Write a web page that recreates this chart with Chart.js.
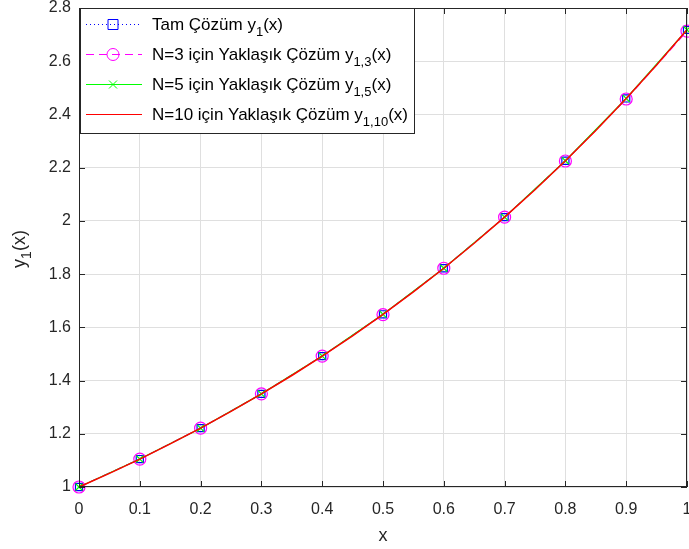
<!DOCTYPE html>
<html>
<head>
<meta charset="utf-8">
<script src="https://cdn.jsdelivr.net/npm/chart.js@4"></script>
<style>
  html, body { margin: 0; padding: 0; background: #fff; }
  #wrap { width: 689px; height: 549px; }
</style>
</head>
<body>
<div id="wrap"><canvas id="c" width="689" height="549"></canvas></div>
<script>
// values
const xValues = [0, 0.1, 0.2, 0.3, 0.4, 0.5, 0.6, 0.7, 0.8, 0.9, 1];
const exactY = [1, 1.105, 1.221, 1.350, 1.492, 1.649, 1.822, 2.014, 2.226, 2.460, 2.718];
const n3Y = [1, 1.105, 1.221, 1.350, 1.492, 1.648, 1.822, 2.014, 2.225, 2.458, 2.713];
const n5Y = [1, 1.105, 1.221, 1.350, 1.492, 1.649, 1.822, 2.014, 2.226, 2.460, 2.718];
const n10X = [0, 0.05, 0.1, 0.15, 0.2, 0.25, 0.3, 0.35, 0.4, 0.45, 0.5, 0.55, 0.6, 0.65, 0.7, 0.75, 0.8, 0.85, 0.9, 0.95, 1];
const n10Y = [1, 1.051, 1.105, 1.162, 1.221, 1.284, 1.350, 1.419, 1.492, 1.568, 1.649, 1.733, 1.822, 1.916, 2.014, 2.117, 2.226, 2.340, 2.460, 2.586, 2.718];

const legendItems = [
  { text: 'Tam Çözüm y', sub: '1', tail: '(x)', color: '#0000ff', dash: [1, 3], marker: 'square' },
  { text: 'N=3 için Yaklaşık Çözüm y', sub: '1,3', tail: '(x)', color: '#ff00ff', dash: [8, 5], marker: 'circle' },
  { text: 'N=5 için Yaklaşık Çözüm y', sub: '1,5', tail: '(x)', color: '#00ff00', dash: [], marker: 'cross' },
  { text: 'N=10 için Yaklaşık Çözüm y', sub: '1,10', tail: '(x)', color: '#ff0000', dash: [], marker: null },
];

const FONT = '"Liberation Sans", Arial, sans-serif';
const AXIS = '#262626';

function toPoints(xs, ys) {
  return xs.map((x, i) => ({ x, y: ys[i] }));
}

function drawMarker(ctx, kind, x, y, color) {
  ctx.save();
  ctx.strokeStyle = color;
  ctx.lineWidth = 1;
  ctx.setLineDash([]);
  ctx.beginPath();
  if (kind === 'square') {
    ctx.rect(x - 5, y - 5, 10, 10);
  } else if (kind === 'circle') {
    ctx.arc(x, y, 6, 0, Math.PI * 2);
  } else if (kind === 'cross') {
    ctx.moveTo(x - 4, y - 4); ctx.lineTo(x + 4, y + 4);
    ctx.moveTo(x - 4, y + 4); ctx.lineTo(x + 4, y - 4);
  }
  ctx.stroke();
  ctx.restore();
}

// text with a subscript part, left aligned at x, baseline y
function drawSubText(ctx, x, y, main, sub, tail, size, subSize) {
  ctx.font = size + 'px ' + FONT;
  ctx.fillText(main, x, y);
  let cx = x + ctx.measureText(main).width;
  ctx.font = subSize + 'px ' + FONT;
  ctx.fillText(sub, cx, y + 6);
  cx += ctx.measureText(sub).width;
  ctx.font = size + 'px ' + FONT;
  ctx.fillText(tail, cx, y);
  return cx + ctx.measureText(tail).width - x;
}

const framePlugin = {
  id: 'frame',
  afterDraw(chart) {
    const { ctx, chartArea: a, scales } = chart;
    ctx.save();

    // box and inward ticks
    ctx.strokeStyle = AXIS;
    ctx.lineWidth = 1;
    ctx.strokeRect(a.left + 0.5, a.top + 0.5, a.right - a.left - 1, a.bottom - a.top - 1);
    ctx.beginPath();
    scales.x.ticks.forEach((t) => {
      const px = Math.round(scales.x.getPixelForValue(t.value)) + 0.5;
      ctx.moveTo(px, a.bottom); ctx.lineTo(px, a.bottom - 6);
      ctx.moveTo(px, a.top); ctx.lineTo(px, a.top + 6);
    });
    scales.y.ticks.forEach((t) => {
      const py = Math.round(scales.y.getPixelForValue(t.value)) + 0.5;
      ctx.moveTo(a.left, py); ctx.lineTo(a.left + 6, py);
      ctx.moveTo(a.right, py); ctx.lineTo(a.right - 6, py);
    });
    ctx.stroke();

    // axis titles
    ctx.fillStyle = AXIS;
    ctx.font = '18px ' + FONT;
    ctx.textAlign = 'center';
    ctx.textBaseline = 'alphabetic';
    ctx.fillText('x', (a.left + a.right) / 2, 541);

    ctx.save();
    ctx.translate(25, 249);
    ctx.rotate(-Math.PI / 2);
    ctx.textAlign = 'left';
    ctx.font = '18px ' + FONT;
    const w1 = ctx.measureText('y').width;
    ctx.font = '14px ' + FONT;
    const w2 = ctx.measureText('1').width;
    ctx.font = '18px ' + FONT;
    const w3 = ctx.measureText('(x)').width;
    drawSubText(ctx, -(w1 + w2 + w3) / 2, 0, 'y', '1', '(x)', 18, 14);
    ctx.restore();

    // legend
    const lx = 80, ly = 8, lw = 334, lh = 125;
    ctx.fillStyle = '#ffffff';
    ctx.fillRect(lx, ly, lw, lh);
    ctx.strokeStyle = AXIS;
    ctx.strokeRect(lx + 0.5, ly + 0.5, lw, lh);
    legendItems.forEach((item, i) => {
      const cy = ly + 16 + i * 30;
      ctx.strokeStyle = item.color;
      ctx.lineWidth = 1;
      ctx.setLineDash(item.dash);
      ctx.beginPath();
      ctx.moveTo(86, cy + 0.5);
      ctx.lineTo(142, cy + 0.5);
      ctx.stroke();
      ctx.setLineDash([]);
      if (item.marker) drawMarker(ctx, item.marker, 113, cy + 0.5, item.color);
      ctx.fillStyle = '#000000';
      ctx.textAlign = 'left';
      drawSubText(ctx, 152, cy + 6, item.text, item.sub, item.tail, 17, 13);
    });

    ctx.restore();
  },
};

const tickLabel = (v) => String(Number(v.toFixed(1)));

new Chart(document.getElementById('c').getContext('2d'), {
  type: 'line',
  data: {
    datasets: [
      {
        label: 'Tam Çözüm',
        data: toPoints(xValues, exactY),
        borderColor: '#0000ff',
        borderWidth: 1,
        borderDash: [1, 3],
        pointStyle: 'rect',
        pointRadius: 5,
        pointBorderColor: '#0000ff',
        pointBackgroundColor: 'rgba(0,0,0,0)',
        pointBorderWidth: 1.2,
        clip: false,
        order: 4,
      },
      {
        label: 'N=3',
        data: toPoints(xValues, n3Y),
        borderColor: '#ff00ff',
        borderWidth: 1.2,
        borderDash: [8, 5],
        pointStyle: 'circle',
        pointRadius: 6,
        pointBorderColor: '#ff00ff',
        pointBackgroundColor: 'rgba(0,0,0,0)',
        pointBorderWidth: 1.2,
        clip: false,
        order: 3,
      },
      {
        label: 'N=5',
        data: toPoints(xValues, n5Y),
        borderColor: '#00ff00',
        borderWidth: 1.2,
        pointStyle: 'crossRot',
        pointRadius: 5,
        pointBorderColor: '#00ff00',
        pointBorderWidth: 1.2,
        clip: false,
        order: 2,
      },
      {
        label: 'N=10',
        data: toPoints(n10X, n10Y),
        borderColor: '#ff0000',
        borderWidth: 1.5,
        pointRadius: 0,
        clip: false,
        order: 1,
      },
    ],
  },
  options: {
    responsive: false,
    animation: false,
    // autoPadding would reserve room for the markers and shrink the plot
    layout: { autoPadding: false, padding: { top: 8, right: 2, left: 0, bottom: 0 } },
    plugins: { legend: { display: false }, tooltip: { enabled: false } },
    scales: {
      x: {
        type: 'linear',
        min: 0,
        max: 1,
        afterFit: (s) => { s.height = 62; s.paddingLeft = 0; s.paddingRight = 0; },
        afterBuildTicks: (s) => { s.ticks = xValues.map((v) => ({ value: v })); },
        grid: { color: '#dfdfdf', drawTicks: false },
        border: { display: false },
        ticks: { color: AXIS, padding: 13, maxRotation: 0, autoSkip: false, font: { family: FONT, size: 16 }, callback: tickLabel },
      },
      y: {
        type: 'linear',
        min: 1,
        max: 2.8,
        afterFit: (s) => { s.width = 79; s.paddingTop = 0; s.paddingBottom = 0; },
        ticks: { stepSize: 0.2, color: AXIS, padding: 8, font: { family: FONT, size: 16 }, callback: tickLabel },
        grid: { color: '#dfdfdf', drawTicks: false },
        border: { display: false },
      },
    },
  },
  plugins: [framePlugin],
});
</script>
</body>
</html>
